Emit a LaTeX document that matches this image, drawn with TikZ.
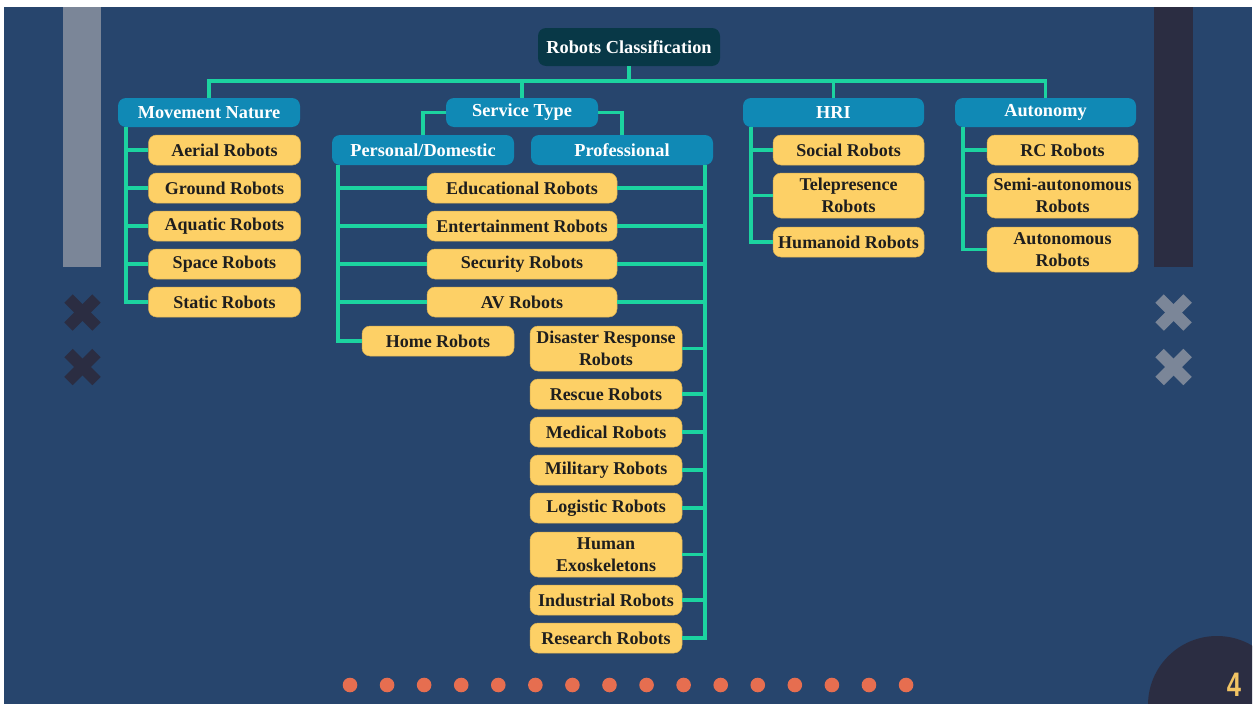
\documentclass[tikz,border=0pt]{standalone}
\usepackage{fontspec}
\setmainfont{Liberation Serif}
\newfontfamily\tnr{Liberation Serif}
\newfontfamily\numfont{Liberation Sans}
\definecolor{navy}{HTML}{27456D}
\definecolor{grayb}{HTML}{7B8698}
\definecolor{darkb}{HTML}{2B2D42}
\definecolor{lineg}{HTML}{1CD3A0}
\definecolor{boxb}{HTML}{1089B5}
\definecolor{rootc}{HTML}{083847}
\definecolor{boxy}{HTML}{FDD066}
\definecolor{boxyd}{HTML}{D9AE50}
\definecolor{txtd}{HTML}{1E1E1E}
\definecolor{dotc}{HTML}{E66E50}
\definecolor{numc}{HTML}{F2C464}
\begin{document}
\begin{tikzpicture}[x=1pt,y=-1pt,
  conn/.style={draw=lineg, line width=3.6pt},
  ybox/.style={fill=boxy, draw=boxyd, line width=0.5pt, rounded corners=8pt, minimum width=152pt, minimum height=30pt, inner sep=0pt, font=\tnr\bfseries\fontsize{18}{22}\selectfont, text=txtd, align=center},
  bbox/.style={fill=boxb, rounded corners=8pt, minimum width=182pt, minimum height=29pt, inner sep=0pt, font=\tnr\bfseries\fontsize{18.3}{21}\selectfont, text=white, align=center},
  xmark/.style={line width=12pt, line cap=butt}
]
\useasboundingbox (0,0) rectangle (1259,704);
\fill[white] (0,0) rectangle (1259,704);
\fill[navy] (4,7) rectangle (1252,704);
% decorations
\fill[grayb] (63,7) rectangle (101,267);
\fill[darkb] (1154,7) rectangle (1193,267);
\foreach \cy in {312.5,367} {
  \draw[xmark, darkb] (82.5,\cy) ++(-14,-14) -- ++(28,28);
  \draw[xmark, darkb] (82.5,\cy) ++(-14,14) -- ++(28,-28);
  \draw[xmark, grayb] (1173.5,\cy) ++(-14,-14) -- ++(28,28);
  \draw[xmark, grayb] (1173.5,\cy) ++(-14,14) -- ++(28,-28);
}
\begin{scope}
  \clip (4,7) rectangle (1252,704);
  \fill[darkb] (1217,705) circle (69);
\end{scope}
\node[text=numc, font=\numfont\bfseries\fontsize{34}{34}\selectfont, xscale=0.75, inner sep=0pt] (pagenum) at (1234,685) {4};
\foreach \i in {0,...,15} \fill[dotc] (350+37.07*\i,685) circle (7.3);

% nodes
\node[bbox, fill=rootc, minimum height=38pt, font=\tnr\bfseries\fontsize{18.3}{21}\selectfont] (root) at (629,47) {Robots Classification};
\node[bbox] (mov) at (209,112.5) {Movement Nature};
\node[bbox, minimum width=152pt] (serv) at (522,112.5) {Service Type};
\node[bbox, minimum width=181pt] (hri) at (833.5,112.5) {HRI};
\node[bbox, minimum width=181pt] (auto) at (1045.5,112.5) {Autonomy};
\node[bbox, minimum height=30pt] (pers) at (423,150) {Personal/Domestic};
\node[bbox, minimum height=30pt] (prof) at (622,150) {Professional};

\node[ybox] (aerial) at (224.5,150) {Aerial Robots};
\node[ybox] (ground) at (224.5,188) {Ground Robots};
\node[ybox] (aquatic) at (224.5,226) {Aquatic Robots};
\node[ybox] (space) at (224.5,264) {Space Robots};
\node[ybox] (static) at (224.5,302) {Static Robots};

\node[ybox, minimum width=190pt] (edu) at (522,188) {Educational Robots};
\node[ybox, minimum width=190pt] (ent) at (522,226) {Entertainment Robots};
\node[ybox, minimum width=190pt] (sec) at (522,264) {Security Robots};
\node[ybox, minimum width=190pt] (av) at (522,302) {AV Robots};
\node[ybox] (home) at (438,341) {Home Robots};

\node[ybox, minimum height=45pt] (disaster) at (606,348.5) {Disaster Response\\Robots};
\node[ybox] (rescue) at (606,394) {Rescue Robots};
\node[ybox] (medical) at (606,432) {Medical Robots};
\node[ybox] (military) at (606,470) {Military Robots};
\node[ybox] (logistic) at (606,508) {Logistic Robots};
\node[ybox, minimum height=45pt] (exo) at (606,554.5) {Human\\Exoskeletons};
\node[ybox] (industrial) at (606,600) {Industrial Robots};
\node[ybox] (research) at (606,638) {Research Robots};

\node[ybox, minimum width=151pt] (social) at (848.5,150) {Social Robots};
\node[ybox, minimum width=151pt, minimum height=45pt] (tele) at (848.5,195.5) {Telepresence\\Robots};
\node[ybox, minimum width=151pt] (humanoid) at (848.5,242) {Humanoid Robots};

\node[ybox, minimum width=151pt] (rc) at (1062.5,150) {RC Robots};
\node[ybox, minimum width=151pt, minimum height=45pt] (semi) at (1062.5,195.5) {Semi-autonomous\\Robots};
\node[ybox, minimum width=151pt, minimum height=45pt] (autonomous) at (1062.5,249.5) {Autonomous\\Robots};

% connectors
\coordinate (bus) at (0,81);
\draw[conn] (mov.north) -- (mov.north |- bus) -| (auto.north);
\draw[conn] (root.south) -- (root.south |- bus);
\draw[conn] (serv.north) -- (serv.north |- bus);
\draw[conn] (hri.north) -- (hri.north |- bus);
\draw[conn] (serv.west) -| (pers.north);
\draw[conn] (serv.east) -| (prof.north);

\coordinate (mvx) at ([xshift=8pt]mov.south west);
\draw[conn] (mvx) |- (static.west);
\foreach \n in {aerial,ground,aquatic,space} \draw[conn] (\n.west) -- (\n.west -| mvx);

\coordinate (pvx) at ([xshift=6pt]pers.south west);
\coordinate (qvx) at ([xshift=-8pt]prof.south east);
\draw[conn] (pvx) |- (home.west);
\draw[conn] (qvx) |- (research.east);
\foreach \n in {edu,ent,sec,av} {
  \draw[conn] (\n.west) -- (\n.west -| pvx);
  \draw[conn] (\n.east) -- (\n.east -| qvx);
}
\foreach \n in {disaster,rescue,medical,military,logistic,exo,industrial} \draw[conn] (\n.east) -- (\n.east -| qvx);

\coordinate (hvx) at ([xshift=8pt]hri.south west);
\draw[conn] (hvx) |- (humanoid.west);
\foreach \n in {social,tele} \draw[conn] (\n.west) -- (\n.west -| hvx);

\coordinate (avx) at ([xshift=8pt]auto.south west);
\draw[conn] (avx) |- (autonomous.west);
\foreach \n in {rc,semi} \draw[conn] (\n.west) -- (\n.west -| avx);
\end{tikzpicture}
\end{document}
